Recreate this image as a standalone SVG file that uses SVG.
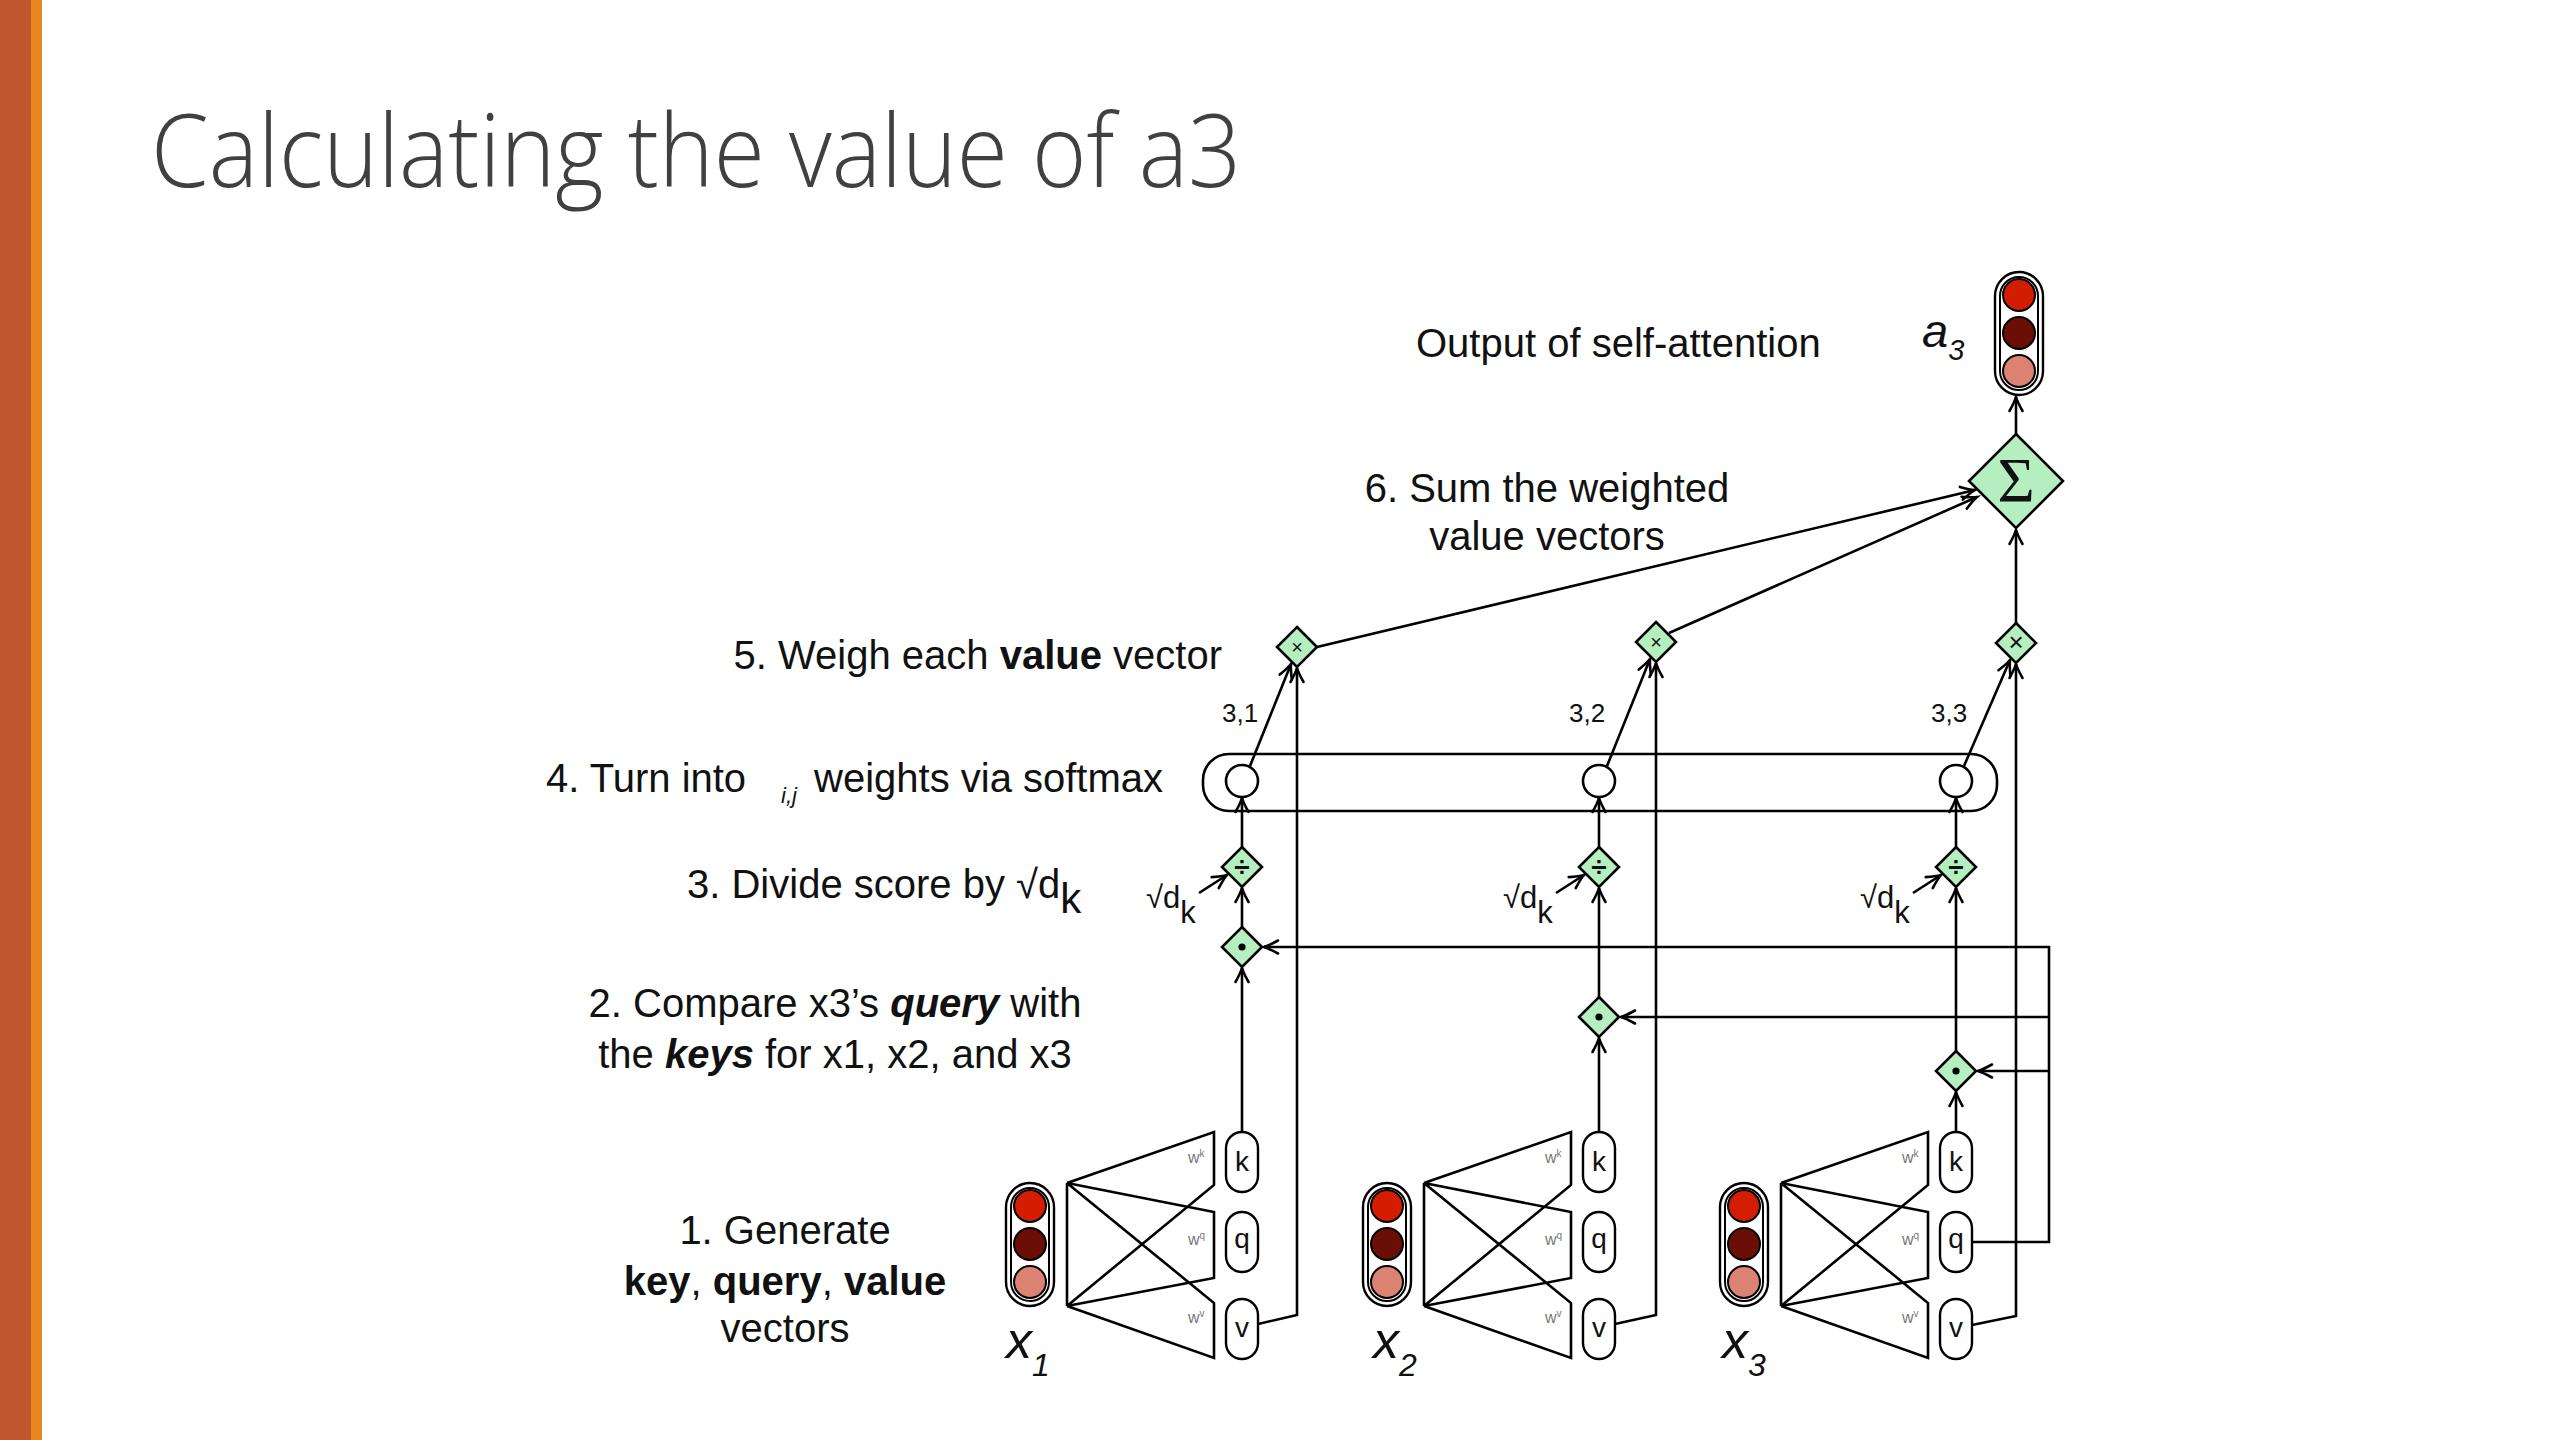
<svg xmlns="http://www.w3.org/2000/svg" width="2560" height="1440" viewBox="0 0 2560 1440">
<defs>
<style>
.t{font-family:"Liberation Sans",Arial,Helvetica,sans-serif;font-size:40px;fill:#111}
.sm{font-family:"Liberation Sans",Arial,sans-serif;font-size:26px;fill:#111}
.w{font-family:"Liberation Sans",Arial,sans-serif;font-size:16px;fill:#777}
.ln{fill:none;stroke:#000;stroke-width:2.6;stroke-linejoin:miter}
.ar{fill:none;stroke:#000;stroke-width:2.6;marker-end:url(#ah)}
.dm{fill:#B5EFBF;stroke:#000;stroke-width:2.6}
.pill{fill:#fff;stroke:#000;stroke-width:2.4}
.op{font-family:"Liberation Sans",Arial,sans-serif;fill:#111;text-anchor:middle}
.sq{font-family:"Liberation Sans",Arial,sans-serif;font-size:31px;fill:#111}
</style>
<marker id="ah" markerUnits="userSpaceOnUse" markerWidth="24" markerHeight="24" viewBox="-16 -12 20 24" refX="0" refY="0" orient="auto" overflow="visible">
<path d="M-14,-6.5 Q-5,-1.5 0,0 Q-5,1.5 -14,6.5" fill="none" stroke="#000" stroke-width="2.6" stroke-linecap="round"/>
</marker>
<g id="vec3">
<rect x="-24" y="0" width="48" height="123" rx="24" fill="#fff" stroke="#000" stroke-width="2.4"/>
<rect x="-19" y="5" width="38" height="113" rx="19" fill="none" stroke="#000" stroke-width="2"/>
<circle cx="0" cy="23" r="16" fill="#D41C00" stroke="#000" stroke-width="2"/>
<circle cx="0" cy="61" r="16" fill="#6B0E05" stroke="#000" stroke-width="2"/>
<circle cx="0" cy="99" r="16" fill="#DB8272" stroke="#000" stroke-width="2"/>
</g>
<path id="dsm" d="M0,-20 L20,0 L0,20 L-20,0 Z"/>
</defs>

<rect x="0" y="0" width="2560" height="1440" fill="#fff"/>
<rect x="0" y="0" width="31" height="1440" fill="#BF5630"/>
<rect x="31" y="0" width="11" height="1440" fill="#E8861F"/>

<text x="151" y="187" font-family="'Open Sans',Lato,sans-serif" font-weight="300" font-size="101" fill="#404040" textLength="1090" lengthAdjust="spacingAndGlyphs">Calculating the value of a3</text>

<!-- step labels -->
<g id="labels">
<text class="t" x="1416" y="357">Output of self-attention</text>
<text x="1922" y="347" font-family="'Liberation Sans',Arial,sans-serif" font-style="italic" font-size="47" fill="#111">a<tspan font-size="29" dy="13">3</tspan></text>
<text class="t" x="1547" y="502" text-anchor="middle">6. Sum the weighted</text>
<text class="t" x="1547" y="550" text-anchor="middle">value vectors</text>
<text class="t" x="1222" y="669" text-anchor="end">5. Weigh each <tspan font-weight="bold">value</tspan> vector</text>
<text class="t" x="546" y="792">4. Turn into</text>
<text x="781" y="803" font-family="'Liberation Sans',Arial,sans-serif" font-style="italic" font-size="22" fill="#111">i,j</text>
<text class="t" x="814" y="792">weights via softmax</text>
<text class="t" x="687" y="898">3. Divide score by √d<tspan dy="15" font-size="42">k</tspan></text>
<text class="t" x="835" y="1017" text-anchor="middle">2. Compare x3’s <tspan font-weight="bold" font-style="italic">query</tspan> with</text>
<text class="t" x="835" y="1068" text-anchor="middle">the <tspan font-weight="bold" font-style="italic">keys</tspan> for x1, x2, and x3</text>
<text class="t" x="785" y="1244" text-anchor="middle">1. Generate</text>
<text class="t" x="785" y="1295" text-anchor="middle"><tspan font-weight="bold">key</tspan>, <tspan font-weight="bold">query</tspan>, <tspan font-weight="bold">value</tspan></text>
<text class="t" x="785" y="1342" text-anchor="middle">vectors</text>
<text class="sm" x="1222" y="722">3,1</text>
<text class="sm" x="1569" y="722">3,2</text>
<text class="sm" x="1931" y="722">3,3</text>
<text class="sq" x="1146" y="908">√d<tspan dy="15">k</tspan></text>
<text class="sq" x="1503" y="908">√d<tspan dy="15">k</tspan></text>
<text class="sq" x="1860" y="908">√d<tspan dy="15">k</tspan></text>
</g>

<!-- connectors -->
<g id="connectors">
<!-- column 1 -->
<path class="ar" d="M1242,1132 V968"/>
<path class="ar" d="M1242,927 V888"/>
<path class="ar" d="M1242,847 V798"/>
<path class="ar" d="M1250,766 L1291,664"/>
<path class="ar" d="M1258,1324 L1297,1315 V668"/>
<path class="ar" d="M1199,893 L1227,875"/>
<path class="ar" d="M1317,647 L1975,490"/>
<!-- column 2 -->
<path class="ar" d="M1599,1132 V1038"/>
<path class="ar" d="M1599,997 V888"/>
<path class="ar" d="M1599,847 V798"/>
<path class="ar" d="M1607,766 L1650,659"/>
<path class="ar" d="M1615,1324 L1656,1315 V663"/>
<path class="ar" d="M1556,893 L1584,875"/>
<path class="ar" d="M1669,633 L1977,497"/>
<!-- column 3 -->
<path class="ar" d="M1956,1132 V1092"/>
<path class="ar" d="M1956,1051 V888"/>
<path class="ar" d="M1956,847 V798"/>
<path class="ar" d="M1964,766 L2010,660"/>
<path class="ar" d="M1972,1325 L2016,1316 V664"/>
<path class="ar" d="M1913,893 L1941,875"/>
<path class="ar" d="M2016,623 V530"/>
<!-- query distribution -->
<path class="ar" d="M1972,1242 H2049 V947 H1264"/>
<path class="ar" d="M2049,1017 H1621"/>
<path class="ar" d="M2049,1071 H1978"/>
<!-- sum to output -->
<path class="ar" d="M2016,434 V397"/>
</g>

<!-- softmax bar -->
<g id="softmax">
<rect x="1203" y="754" width="794" height="57" rx="26" class="ln"/>
<circle cx="1242" cy="781" r="16" fill="#fff" stroke="#000" stroke-width="2.6"/>
<circle cx="1599" cy="781" r="16" fill="#fff" stroke="#000" stroke-width="2.6"/>
<circle cx="1956" cy="781" r="16" fill="#fff" stroke="#000" stroke-width="2.6"/>
</g>

<!-- operator diamonds -->
<g id="dot1" transform="translate(1242,947)"><use href="#dsm" class="dm"/><circle r="3.6" fill="#000"/></g>
<g id="dot2" transform="translate(1599,1017)"><use href="#dsm" class="dm"/><circle r="3.6" fill="#000"/></g>
<g id="dot3" transform="translate(1956,1071)"><use href="#dsm" class="dm"/><circle r="3.6" fill="#000"/></g>
<g id="div1" transform="translate(1242,867)"><use href="#dsm" class="dm"/><text class="op" y="9" font-size="28" font-weight="bold">÷</text></g>
<g id="div2" transform="translate(1599,867)"><use href="#dsm" class="dm"/><text class="op" y="9" font-size="28" font-weight="bold">÷</text></g>
<g id="div3" transform="translate(1956,867)"><use href="#dsm" class="dm"/><text class="op" y="9" font-size="28" font-weight="bold">÷</text></g>
<g id="mul1" transform="translate(1297,647)"><use href="#dsm" class="dm"/><text class="op" y="7" font-size="20">×</text></g>
<g id="mul2" transform="translate(1656,642)"><use href="#dsm" class="dm"/><text class="op" y="7" font-size="20">×</text></g>
<g id="mul3" transform="translate(2016,643)"><use href="#dsm" class="dm"/><text class="op" y="8" font-size="26">×</text></g>
<g id="sum" transform="translate(2016,481)">
<path d="M0,-47 L47,0 L0,47 L-47,0 Z" class="dm"/>
<text x="0" y="21" font-family="'Liberation Serif','Times New Roman',serif" font-size="64" text-anchor="middle" fill="#111">Σ</text>
</g>

<!-- output a3 -->
<g id="a3" transform="translate(2019,272)"><use href="#vec3"/></g>

<!-- inputs -->
<g id="input1">
<use href="#vec3" transform="translate(1030,1183)"/>
<path class="ln" d="M1067,1183 V1306 M1067,1183 L1214,1132 V1185 L1067,1306 M1067,1183 L1214,1212 V1278 L1067,1306 M1067,1183 L1214,1303 V1358 L1067,1306"/>
<text class="w" x="1188" y="1163">w<tspan font-size="10" dy="-6">k</tspan></text>
<text class="w" x="1188" y="1245">w<tspan font-size="10" dy="-6">q</tspan></text>
<text class="w" x="1188" y="1323">w<tspan font-size="10" dy="-6">v</tspan></text>
<rect class="pill" x="1226" y="1132" width="32" height="60" rx="16"/>
<rect class="pill" x="1226" y="1212" width="32" height="60" rx="16"/>
<rect class="pill" x="1226" y="1299" width="32" height="60" rx="16"/>
<text class="op" x="1242" y="1171" font-size="28">k</text>
<text class="op" x="1242" y="1248" font-size="28">q</text>
<text class="op" x="1242" y="1337" font-size="28">v</text>
<text x="1006" y="1358" font-family="'Liberation Sans',Arial,sans-serif" font-style="italic" font-size="52" fill="#111">x<tspan font-size="32" dy="18">1</tspan></text>
</g>
<g id="input2">
<use href="#vec3" transform="translate(1387,1183)"/>
<path class="ln" d="M1424,1183 V1306 M1424,1183 L1571,1132 V1185 L1424,1306 M1424,1183 L1571,1212 V1278 L1424,1306 M1424,1183 L1571,1303 V1358 L1424,1306"/>
<text class="w" x="1545" y="1163">w<tspan font-size="10" dy="-6">k</tspan></text>
<text class="w" x="1545" y="1245">w<tspan font-size="10" dy="-6">q</tspan></text>
<text class="w" x="1545" y="1323">w<tspan font-size="10" dy="-6">v</tspan></text>
<rect class="pill" x="1583" y="1132" width="32" height="60" rx="16"/>
<rect class="pill" x="1583" y="1212" width="32" height="60" rx="16"/>
<rect class="pill" x="1583" y="1299" width="32" height="60" rx="16"/>
<text class="op" x="1599" y="1171" font-size="28">k</text>
<text class="op" x="1599" y="1248" font-size="28">q</text>
<text class="op" x="1599" y="1337" font-size="28">v</text>
<text x="1373" y="1358" font-family="'Liberation Sans',Arial,sans-serif" font-style="italic" font-size="52" fill="#111">x<tspan font-size="32" dy="18">2</tspan></text>
</g>
<g id="input3">
<use href="#vec3" transform="translate(1744,1183)"/>
<path class="ln" d="M1781,1183 V1306 M1781,1183 L1928,1132 V1185 L1781,1306 M1781,1183 L1928,1212 V1278 L1781,1306 M1781,1183 L1928,1303 V1358 L1781,1306"/>
<text class="w" x="1902" y="1163">w<tspan font-size="10" dy="-6">k</tspan></text>
<text class="w" x="1902" y="1245">w<tspan font-size="10" dy="-6">q</tspan></text>
<text class="w" x="1902" y="1323">w<tspan font-size="10" dy="-6">v</tspan></text>
<rect class="pill" x="1940" y="1132" width="32" height="60" rx="16"/>
<rect class="pill" x="1940" y="1212" width="32" height="60" rx="16"/>
<rect class="pill" x="1940" y="1299" width="32" height="60" rx="16"/>
<text class="op" x="1956" y="1171" font-size="28">k</text>
<text class="op" x="1956" y="1248" font-size="28">q</text>
<text class="op" x="1956" y="1337" font-size="28">v</text>
<text x="1722" y="1358" font-family="'Liberation Sans',Arial,sans-serif" font-style="italic" font-size="52" fill="#111">x<tspan font-size="32" dy="18">3</tspan></text>
</g>
</svg>
